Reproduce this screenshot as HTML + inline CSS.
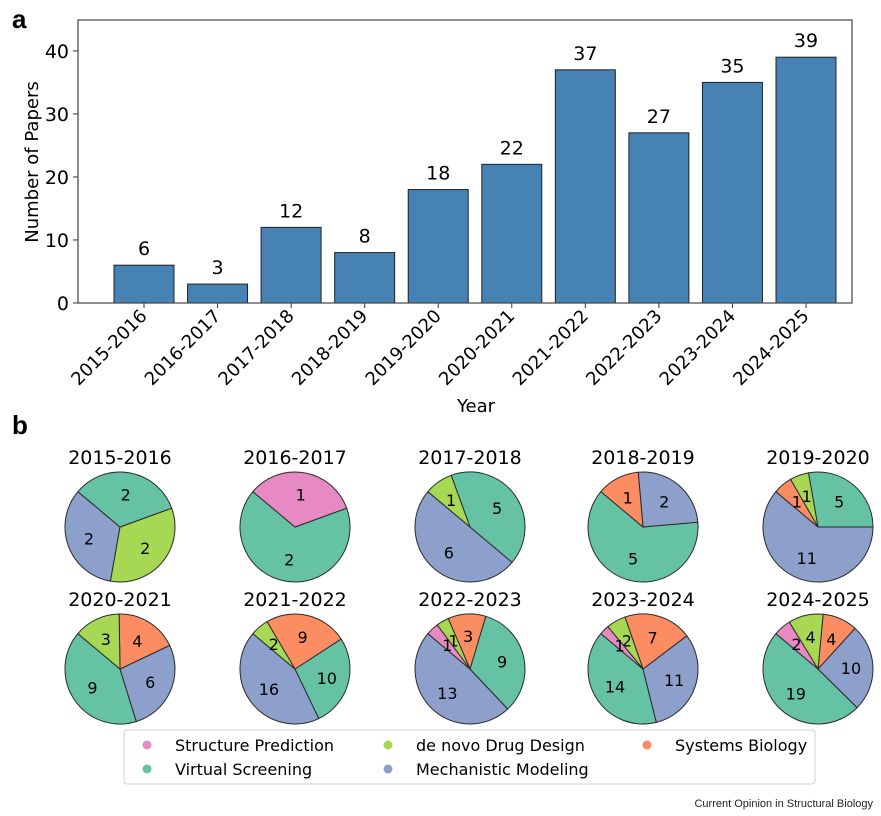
<!DOCTYPE html>
<html><head><meta charset="utf-8"><style>
body{margin:0;background:#fff;}
svg{display:block;font-family:"DejaVu Sans","Liberation Sans",sans-serif;}
</style></head><body>
<svg id="fig" width="881" height="816" viewBox="0 0 881 816" xmlns="http://www.w3.org/2000/svg">
<text x="12" y="28" font-size="26" font-weight="bold" font-family="Liberation Sans, sans-serif">a</text>
<text x="12" y="434" font-size="26" font-weight="bold" font-family="Liberation Sans, sans-serif">b</text>
<g id="bars"></g>
<g id="pies"></g>
<g>
<rect x="124" y="730" width="691" height="54" rx="3" fill="#fff" stroke="#d0d0d0"/>
<g id="legendItems"></g>
</g>
<text x="873" y="807" font-size="11" text-anchor="end" font-family="Liberation Sans, sans-serif" fill="#222">Current Opinion in Structural Biology</text>
</svg>
<script>
const NS="http://www.w3.org/2000/svg";
const years=["2015-2016","2016-2017","2017-2018","2018-2019","2019-2020","2020-2021","2021-2022","2022-2023","2023-2024","2024-2025"];
const counts=[6,3,12,8,18,22,37,27,35,39];
const yTicks=[0,10,20,30,40];
const categories=["Structure Prediction","de novo Drug Design","Systems Biology","Virtual Screening","Mechanistic Modeling"];
const catColors=["#e78ac3","#a6d854","#fc8d62","#66c2a5","#8da0cb"];
// per-year counts: [Structure, deNovo, Systems, Virtual, Mechanistic]
const pieStruct=[0,1,0,0,0,0,0,1,1,2];
const pieDeNovo=[2,0,1,0,1,3,2,1,2,4];
const pieSystems=[0,0,0,1,1,4,9,3,7,4];
const pieVirtual=[2,2,5,5,5,9,10,9,14,19];
const pieMech=[2,0,6,2,11,6,16,13,11,10];
// tie-break rank (drawing order among equal counts) per category
const tieRank=[[4,1,3],[3,0],[4,3,1],[3,4,2],[4,3,1,2],[3,4,2,1],[4,3,2,1],[4,3,2,1,0],[3,4,2,1,0],[3,4,2,1,0]];

function mk(tag,attrs,parent){const e=document.createElementNS(NS,tag);for(const k in attrs)e.setAttribute(k,attrs[k]);parent.appendChild(e);return e;}

// Bar chart
const bars=document.getElementById('bars');
const L=78,R=852,T=20,B=303,yMax=44.9;
const y=v=>B-(v/yMax)*(B-T);
const step=(806-144)/9;
const x=i=>144+i*step;
const bw=60;
yTicks.forEach(t=>{
  const g=mk('g',{},bars);
  
  
  mk('line',{x1:L-5,x2:L,y1:y(t),y2:y(t),stroke:'#333'},g);
  const tx=mk('text',{x:L-9,y:y(t)+7,'font-size':19,'text-anchor':'end'},g);tx.textContent=t;
});
counts.forEach((c,i)=>{
  const r=mk('rect',{x:x(i)-bw/2,y:y(c),width:bw,height:y(0)-y(c),fill:'#4682b4',stroke:'#222','stroke-width':1},bars);
  
  
  const lb=mk('text',{x:x(i),y:y(c)-10,'font-size':19,'text-anchor':'middle'},bars);
  
  
  lb.textContent=c;
  mk('line',{x1:x(i),x2:x(i),y1:B,y2:B+5,stroke:'#333'},bars);
  const xl=mk('text',{x:0,y:0,'font-size':18,'text-anchor':'end',transform:`translate(${x(i)+4},${B+14}) rotate(-45)`},bars);
  
  
  xl.textContent=years[i];
});
const frame=mk('rect',{x:L,y:T,width:R-L,height:B-T,fill:'none',stroke:'#444','stroke-width':1.2},bars);


const yt=mk('text',{x:0,y:0,'font-size':18,'text-anchor':'middle',transform:'translate(38,162) rotate(-90)'},bars);


yt.textContent='Number of Papers';
const xt=mk('text',{x:476,y:412,'font-size':18,'text-anchor':'middle'},bars);


xt.textContent='Year';

// Pies
const pies=document.getElementById('pies');
const colX=[120,295,470,643,818],rowY=[527,669],rad=55;
years.forEach((yr,i)=>{
  const cx=colX[i%5],cy=rowY[Math.floor(i/5)];
  const g=mk('g',{},pies);
  
  
  const ttl=mk('text',{x:cx,y:cy-63,'font-size':19,'text-anchor':'middle'},g);
  
  
  ttl.textContent=yr;
  const vals=[pieStruct[i],pieDeNovo[i],pieSystems[i],pieVirtual[i],pieMech[i]];
  const rank=tieRank[i];
  const rk=k=>{const p=rank.indexOf(k);return p<0?99:p;};
  const items=vals.map((v,k)=>({v,k})).filter(o=>o.v>0);
  items.sort((a,b)=>b.v-a.v || rk(a.k)-rk(b.k));
  const tot=items.reduce((s,o)=>s+o.v,0);
  let a=140;
  items.forEach(o=>{
    const sw=o.v/tot*360,a2=a+sw;
    const r1=a*Math.PI/180,r2=a2*Math.PI/180;
    let d;
    if(items.length===1){d=`M${cx+rad},${cy} A${rad},${rad} 0 1 0 ${cx-rad},${cy} A${rad},${rad} 0 1 0 ${cx+rad},${cy}Z`;}
    else d=`M${cx},${cy} L${cx+rad*Math.cos(r1)},${cy-rad*Math.sin(r1)} A${rad},${rad} 0 ${sw>180?1:0} 0 ${cx+rad*Math.cos(r2)},${cy-rad*Math.sin(r2)} Z`;
    const p=mk('path',{d,fill:catColors[o.k],stroke:'#2a2a2a','stroke-width':1},g);
    
    
    const m=(a+sw/2)*Math.PI/180;
    const t=mk('text',{x:cx+rad*0.6*Math.cos(m),y:cy-rad*0.6*Math.sin(m)+6,'font-size':16,'text-anchor':'middle'},g);
    
    
    t.textContent=o.v;
    a=a2;
  });
});

// Legend
const li=document.getElementById('legendItems');
const legPos=[[147,745],[388,745],[647,745],[147,769],[388,769]];
const legOrder=[0,1,2,3,4];
legOrder.forEach((k,j)=>{
  const [lx,ly]=legPos[j];
  const g=mk('g',{},li);
  
  
  mk('circle',{cx:lx,cy:ly,r:4.5,fill:catColors[k]},g);
  const t=mk('text',{x:lx+28,y:ly+6,'font-size':16},g);
  t.textContent=categories[k];
});
</script>
</body></html>
